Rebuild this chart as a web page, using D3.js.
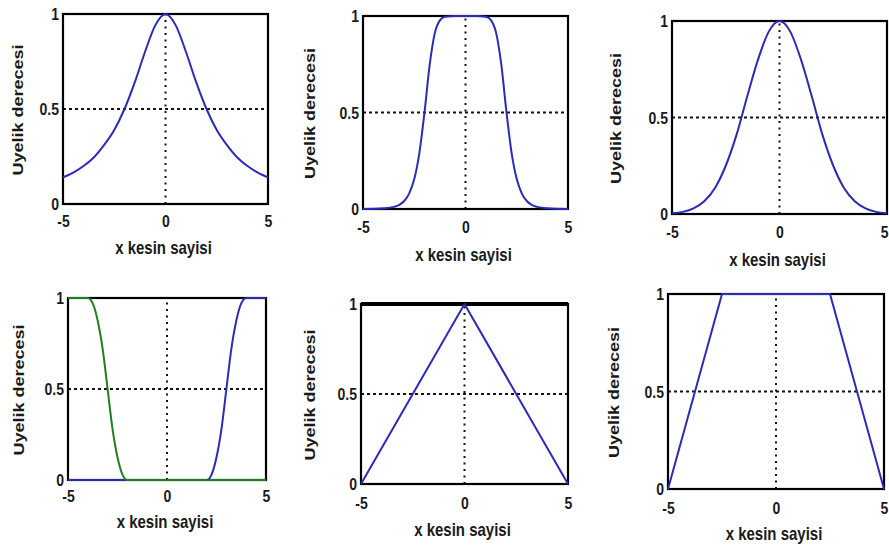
<!DOCTYPE html>
<html>
<head>
<meta charset="utf-8">
<script src="https://cdn.jsdelivr.net/npm/d3@7"></script>
<style>
  html, body { margin: 0; padding: 0; background: #fff; }
  svg { display: block; }
</style>
</head>
<body>
<svg id="chart" width="889" height="554"></svg>
<script>
// Axis ticks and labels shared by every panel
const xTicks = [-5, 0, 5];
const xTickLabels = ["-5", "0", "5"];
const yTicks = [0, 0.5, 1];
const yTickLabels = ["0", "0.5", "1"];
const xLabel = "x kesin sayisi";
const yLabel = "Uyelik derecesi";

// Bell-shaped membership (wide tails)
const bellX = [-5, -4.5, -4, -3.5, -3, -2.5, -2, -1.5, -1, -0.5, 0, 0.5, 1, 1.5, 2, 2.5, 3, 3.5, 4, 4.5, 5];
const bellY = [0.14, 0.165, 0.2, 0.245, 0.31, 0.39, 0.5, 0.64, 0.8, 0.94, 1, 0.94, 0.8, 0.64, 0.5, 0.39, 0.31, 0.245, 0.2, 0.165, 0.14];

// Flat-topped bell membership
const flatX = [-5, -4, -3.5, -3.25, -3, -2.75, -2.5, -2.25, -2, -1.75, -1.5, -1.25, -1, -0.5, 0, 0.5, 1, 1.25, 1.5, 1.75, 2, 2.25, 2.5, 2.75, 3, 3.25, 3.5, 4, 5];
const flatY = [0, 0.004, 0.011, 0.02, 0.04, 0.08, 0.155, 0.29, 0.5, 0.745, 0.91, 0.977, 0.996, 1, 1, 1, 0.996, 0.977, 0.91, 0.745, 0.5, 0.29, 0.155, 0.08, 0.04, 0.02, 0.011, 0.004, 0];

// Gaussian membership
const gaussX = [-5, -4.5, -4, -3.5, -3, -2.5, -2, -1.5, -1, -0.5, 0, 0.5, 1, 1.5, 2, 2.5, 3, 3.5, 4, 4.5, 5];
const gaussY = [0.004, 0.011, 0.029, 0.066, 0.135, 0.25, 0.41, 0.61, 0.8, 0.945, 1, 0.945, 0.8, 0.61, 0.41, 0.25, 0.135, 0.066, 0.029, 0.011, 0.004];

// S-shaped (rising) and Z-shaped (falling) memberships
const riseX = [-5, 2, 2.25, 2.5, 2.75, 3, 3.25, 3.5, 3.75, 4, 5];
const riseY = [0, 0, 0.03, 0.125, 0.28, 0.5, 0.72, 0.875, 0.97, 1, 1];
const fallX = [-5, -4, -3.75, -3.5, -3.25, -3, -2.75, -2.5, -2.25, -2, 5];
const fallY = [1, 1, 0.97, 0.875, 0.72, 0.5, 0.28, 0.125, 0.03, 0, 0];

// Triangular membership
const triX = [-5, 0, 5];
const triY = [0, 1, 0];

// Trapezoidal membership
const trapX = [-5, -2.5, 2.5, 5];
const trapY = [0, 1, 1, 0];

const BLUE = "#2b2bb8";
const GREEN = "#1f7f1f";
const FONT = "'Liberation Sans', Arial, sans-serif";
const STRETCH = 1.2;
const WIDTH = 889;

// Plot boxes for the 2x3 grid of panels
const panels = [
  { l: 63,  r: 268, t: 14,  b: 204, tickY: 221, labY: 248, yLabX: 18,  top: 2.2,
    series: [{ x: bellX, y: bellY, color: BLUE }], curve: d3.curveMonotoneX },
  { l: 363, r: 568, t: 16,  b: 209, tickY: 227, labY: 255, yLabX: 310, top: 2.2,
    series: [{ x: flatX, y: flatY, color: BLUE }], curve: d3.curveMonotoneX },
  { l: 672, r: 887, t: 21,  b: 214, tickY: 232, labY: 260, yLabX: 616, top: 2.2,
    series: [{ x: gaussX, y: gaussY, color: BLUE }], curve: d3.curveMonotoneX },
  { l: 68,  r: 266, t: 298, b: 480, tickY: 496, labY: 522, yLabX: 19,  top: 2.2,
    series: [{ x: riseX, y: riseY, color: BLUE }, { x: fallX, y: fallY, color: GREEN }], curve: d3.curveMonotoneX },
  { l: 361, r: 568, t: 304, b: 484, tickY: 503, labY: 530, yLabX: 310, top: 4,
    series: [{ x: triX, y: triY, color: BLUE }], curve: d3.curveLinear },
  { l: 668, r: 884, t: 294, b: 489, tickY: 508, labY: 534, yLabX: 614, top: 2.2,
    series: [{ x: trapX, y: trapY, color: BLUE }], curve: d3.curveLinear }
];

const svg = d3.select("#chart");

panels.forEach(p => {
  const x = d3.scaleLinear().domain([-5, 5]).range([p.l, p.r]);
  const y = d3.scaleLinear().domain([0, 1]).range([p.b, p.t]);
  const g = svg.append("g");

  // dotted reference lines at x = 0 and y = 0.5
  g.append("line")
    .attr("x1", x(0)).attr("x2", x(0)).attr("y1", y(0)).attr("y2", y(1))
    .attr("stroke", "#111").attr("stroke-width", 2).attr("stroke-dasharray", "2,4.5");
  g.append("line")
    .attr("x1", x(-5)).attr("x2", x(5)).attr("y1", y(0.5)).attr("y2", y(0.5))
    .attr("stroke", "#111").attr("stroke-width", 2).attr("stroke-dasharray", "3,3");

  // axes box
  g.append("rect")
    .attr("x", x(-5)).attr("y", y(1))
    .attr("width", x(5) - x(-5)).attr("height", y(0) - y(1))
    .attr("fill", "none").attr("stroke", "#000").attr("stroke-width", 2.2);
  if (p.top > 2.2) {
    g.append("line")
      .attr("x1", x(-5)).attr("x2", x(5)).attr("y1", y(1)).attr("y2", y(1))
      .attr("stroke", "#000").attr("stroke-width", p.top);
  }

  // tick labels
  const ax = g.append("g")
    .attr("transform", `translate(0,${y(0)})`)
    .call(d3.axisBottom(x).tickValues(xTicks).tickSize(0)
      .tickFormat((d, i) => xTickLabels[i]));
  ax.select(".domain").remove();
  ax.attr("font-family", FONT).attr("font-size", 14).attr("font-weight", "bold");
  ax.selectAll(".tick").each(function (d) {
    const t = d3.select(this).select("text")
      .attr("y", null).attr("dy", "0.35em").attr("fill", "#1a1a1a");
    // pull a label back inside the page if it would run past the right edge
    const w = t.node().getComputedTextLength();
    const over = x(d) + w / 2 - (WIDTH - 1);
    const dx = over > 0 ? -over : 0;
    t.attr("transform", `translate(${dx},${p.tickY - p.b}) scale(1,${STRETCH})`);
  });

  const ay = g.append("g")
    .attr("transform", `translate(${x(-5)},0)`)
    .call(d3.axisLeft(y).tickValues(yTicks).tickSize(0)
      .tickFormat((d, i) => yTickLabels[i]));
  ay.select(".domain").remove();
  ay.attr("font-family", FONT).attr("font-size", 14).attr("font-weight", "bold");
  ay.selectAll("text")
    .attr("x", -4).attr("dy", "0.35em").attr("fill", "#1a1a1a")
    .attr("transform", `scale(1,${STRETCH})`);

  // axis titles
  g.append("text")
    .attr("transform", `translate(${(p.l + p.r) / 2 - 2},${p.labY}) scale(1,${STRETCH})`)
    .attr("text-anchor", "middle").attr("dy", "0.35em")
    .attr("font-family", FONT).attr("font-size", 15).attr("font-weight", "bold")
    .attr("fill", "#1a1a1a")
    .text(xLabel);
  g.append("text")
    .attr("transform", `translate(${p.yLabX},${(p.t + p.b) / 2 + 1}) scale(1,${STRETCH}) rotate(-90)`)
    .attr("text-anchor", "middle").attr("dy", "0.35em")
    .attr("font-family", FONT).attr("font-size", 15).attr("font-weight", "bold")
    .attr("fill", "#1a1a1a")
    .text(yLabel);

  // membership curves
  p.series.forEach(s => {
    const pts = s.x.map((v, i) => [v, s.y[i]]);
    g.append("path")
      .datum(pts)
      .attr("fill", "none")
      .attr("stroke", s.color)
      .attr("stroke-width", 2)
      .attr("stroke-linejoin", "round")
      .attr("d", d3.line().x(d => x(d[0])).y(d => y(d[1])).curve(p.curve));
  });
});
</script>
</body>
</html>
